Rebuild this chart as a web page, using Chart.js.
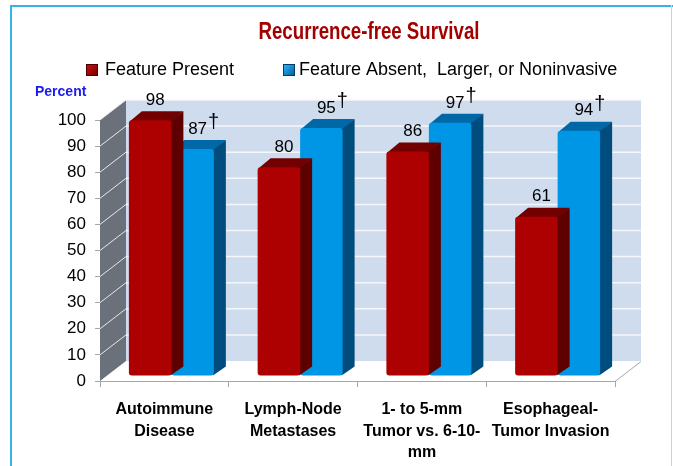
<!DOCTYPE html>
<html><head><meta charset="utf-8">
<script src="https://cdn.jsdelivr.net/npm/chart.js@4.4.1/dist/chart.umd.min.js"></script>
<style>html,body{margin:0;padding:0;background:#fff}#wrap{width:673px;height:466px;position:relative}</style>
</head><body><div id="wrap"><canvas id="c" width="673" height="466"></canvas></div>
<script>
// ---- data ----
const categories = [
  ["Autoimmune", "Disease"],
  ["Lymph-Node", "Metastases"],
  ["1- to 5-mm", "Tumor vs. 6-10-", "mm"],
  ["Esophageal-", "Tumor Invasion"]
];
const seriesNames = ["Feature Present", "Feature Absent,  Larger, or Noninvasive"];
const featurePresent = [98, 80, 86, 61];
const featureAbsent = [87, 95, 97, 94];
const presentMarks = ["", "", "", ""];
const absentMarks = ["\u2020", "\u2020", "\u2020", "\u2020"];
const yTicks = [0, 10, 20, 30, 40, 50, 60, 70, 80, 90, 100];
const titleText = "Recurrence-free Survival";
const yAxisTitle = "Percent";

// ---- styling ----
const FONT = '"Liberation Sans", Arial, Helvetica, sans-serif';
function hasFont(name) {
  const c = document.createElement('canvas').getContext('2d');
  c.font = 'bold 40px monospace';
  const a = c.measureText('Recurrence-free Survival').width;
  c.font = 'bold 40px "' + name + '", monospace';
  const b = c.measureText('Recurrence-free Survival').width;
  return Math.abs(a - b) > 0.5;
}
const NARROW = hasFont('Liberation Sans Narrow');
const CAT_FONT = NARROW ? { family: '"Liberation Sans Narrow", ' + FONT, size: 19, weight: 'bold', lineHeight: 21.5 / 19 }
                        : { family: FONT, size: 16, weight: 'bold', lineHeight: 21.5 / 16 };
const CAT_PAD = NARROW ? 10 : 12;

const DX = 26, DY = -20;      // wall depth
const BDX = 12, BDY = -9;     // bar depth
const SHIFT_X = 7, SHIFT_Y = -5;

Chart.defaults.font.family = FONT;

function legendBox(ctx, x, y, s, c1, c2, edge) {
  const g = ctx.createLinearGradient(x, y, x + s, y + s);
  g.addColorStop(0, c1); g.addColorStop(1, c2);
  ctx.fillStyle = g;
  ctx.fillRect(x, y, s, s);
  ctx.strokeStyle = edge; ctx.lineWidth = 1;
  ctx.strokeRect(x + 0.5, y + 0.5, s - 1, s - 1);
}

const scene = {
  id: 'scene',
  beforeDraw(chart) {
    const ctx = chart.ctx, ca = chart.chartArea, y = chart.scales.y;
    ctx.save();
    ctx.fillStyle = '#ffffff';
    ctx.fillRect(0, 0, chart.width, chart.height);
    // frame
    ctx.fillStyle = '#38b3e2';
    ctx.fillRect(10, 5, 663, 2);
    ctx.fillRect(10, 5, 2, 461);
    ctx.fillStyle = '#a8dff2';
    ctx.fillRect(671, 5, 1, 461);

    const yTop = y.getPixelForValue(y.max), yBot = y.getPixelForValue(y.min);
    // back wall
    ctx.fillStyle = '#cfdcee';
    ctx.fillRect(ca.left + DX, yTop + DY, ca.right - ca.left, yBot - yTop);
    // left wall
    ctx.fillStyle = '#6b717b';
    ctx.beginPath();
    ctx.moveTo(ca.left, yBot); ctx.lineTo(ca.left + DX, yBot + DY);
    ctx.lineTo(ca.left + DX, yTop + DY); ctx.lineTo(ca.left, yTop);
    ctx.closePath(); ctx.fill();
    // grid lines
    y.ticks.forEach(t => {
      if (t.value === y.min) return;
      const py = y.getPixelForValue(t.value);
      ctx.strokeStyle = '#f4f7fb'; ctx.lineWidth = 1.5;
      ctx.beginPath(); ctx.moveTo(ca.left + DX, py + DY); ctx.lineTo(ca.right + DX, py + DY); ctx.stroke();
      ctx.strokeStyle = '#e6e9ee'; ctx.lineWidth = 1;
      ctx.beginPath(); ctx.moveTo(ca.left, py); ctx.lineTo(ca.left + DX, py + DY); ctx.stroke();
    });
    // floor right edge
    ctx.strokeStyle = '#a6a6a6'; ctx.lineWidth = 1;
    ctx.beginPath(); ctx.moveTo(ca.right, yBot + 0.5); ctx.lineTo(ca.right + DX, yBot + DY + 0.5); ctx.stroke();

    // title (condensed bold)
    ctx.fillStyle = '#a30000';
    ctx.font = 'bold 23px ' + FONT;
    ctx.textAlign = 'center'; ctx.textBaseline = 'middle';
    const tw = ctx.measureText(titleText).width;
    ctx.save();
    ctx.translate(369, 33);
    ctx.scale(221 / tw, 1);
    ctx.fillText(titleText, 0, 0);
    ctx.restore();
    // legend
    ctx.font = '18px ' + FONT;
    ctx.textAlign = 'left'; ctx.textBaseline = 'middle';
    legendBox(ctx, 86, 64, 12, '#d01010', '#700000', '#4a0000');
    ctx.fillStyle = '#000';
    ctx.fillText(seriesNames[0], 105, 70);
    legendBox(ctx, 283, 64, 12, '#30b8ff', '#005a99', '#003c66');
    ctx.fillStyle = '#000';
    ctx.fillText(seriesNames[1], 299, 70);
    // y axis title
    ctx.fillStyle = '#1a1af0';
    ctx.font = 'bold 14px ' + FONT;
    ctx.fillText(yAxisTitle, 35, 92);
    ctx.restore();
  },
  beforeDatasetsDraw(chart) {
    chart.ctx.save();
    chart.ctx.translate(SHIFT_X, SHIFT_Y);
  },
  beforeDatasetDraw(chart, args) {
    const ctx = chart.ctx;
    const ds = chart.data.datasets[args.index];
    args.meta.data.forEach(bar => {
      const p = bar.getProps(['x', 'y', 'base', 'width'], true);
      const L = p.x - p.width / 2, R = p.x + p.width / 2;
      ctx.fillStyle = ds.topColor;
      ctx.beginPath();
      ctx.moveTo(L + 1, p.y + 1); ctx.lineTo(L + 1 + BDX, p.y + BDY);
      ctx.lineTo(R + BDX, p.y + BDY); ctx.lineTo(R, p.y + 1);
      ctx.closePath(); ctx.fill();
      ctx.fillStyle = ds.sideColor;
      ctx.beginPath();
      ctx.moveTo(R - 1, p.y + 1); ctx.lineTo(R + BDX, p.y + BDY);
      ctx.lineTo(R + BDX, p.base + BDY); ctx.lineTo(R - 1, p.base);
      ctx.closePath(); ctx.fill();
    });
  },
  afterDatasetsDraw(chart) {
    const ctx = chart.ctx;
    ctx.restore();
    ctx.save();
    chart.data.datasets.forEach((ds, i) => {
      const meta = chart.getDatasetMeta(i);
      meta.data.forEach((bar, j) => {
        const cx = bar.x + SHIFT_X + 5;
        const cy = bar.y + SHIFT_Y - 20;
        const txt = String(ds.data[j]);
        ctx.fillStyle = '#000';
        ctx.font = '17px ' + FONT;
        ctx.textAlign = 'center'; ctx.textBaseline = 'middle';
        ctx.fillText(txt, cx, cy);
        const mark = ds.marks[j];
        if (mark) {
          const w = ctx.measureText(txt).width;
          ctx.font = '20px ' + FONT;
          ctx.textAlign = 'left'; ctx.textBaseline = 'alphabetic';
          ctx.fillText(mark, cx + w / 2 + 1, cy - 1);
        }
      });
    });
    ctx.restore();
  }
};

new Chart(document.getElementById('c'), {
  type: 'bar',
  data: {
    labels: categories,
    datasets: [
      { label: seriesNames[0], data: featurePresent, marks: presentMarks,
        backgroundColor: '#ad0000', topColor: '#720000', sideColor: '#5e0000',
        borderRadius: 3, borderSkipped: false,
        categoryPercentage: 0.66, barPercentage: 1.0 },
      { label: seriesNames[1], data: featureAbsent, marks: absentMarks,
        backgroundColor: '#0096e6', topColor: '#0068a6', sideColor: '#004c7c',
        borderRadius: 3, borderSkipped: false,
        categoryPercentage: 0.66, barPercentage: 1.0 }
    ]
  },
  options: {
    responsive: false,
    animation: false,
    layout: { padding: { top: 120, right: 58, left: 0, bottom: 0 } },
    plugins: { legend: { display: false }, title: { display: false }, tooltip: { enabled: false } },
    scales: {
      x: {
        grid: { drawOnChartArea: false, drawTicks: true, tickLength: 6, color: '#a6a6a6', offset: true },
        border: { display: true, color: '#a6a6a6', width: 1 },
        ticks: { color: '#000', font: CAT_FONT, padding: CAT_PAD, maxRotation: 0, autoSkip: false },
        afterFit: s => { s.height = 85; }
      },
      y: {
        min: 0, max: 100,
        afterBuildTicks: s => { s.ticks = yTicks.map(v => ({ value: v })); },
        grid: { drawOnChartArea: false, drawTicks: true, tickLength: 5, color: '#a6a6a6' },
        border: { display: false },
        ticks: { color: '#000', font: { size: 17 }, padding: 9 },
        afterFit: s => { s.width = 100; }
      }
    }
  },
  plugins: [scene]
});
</script>
</body></html>
